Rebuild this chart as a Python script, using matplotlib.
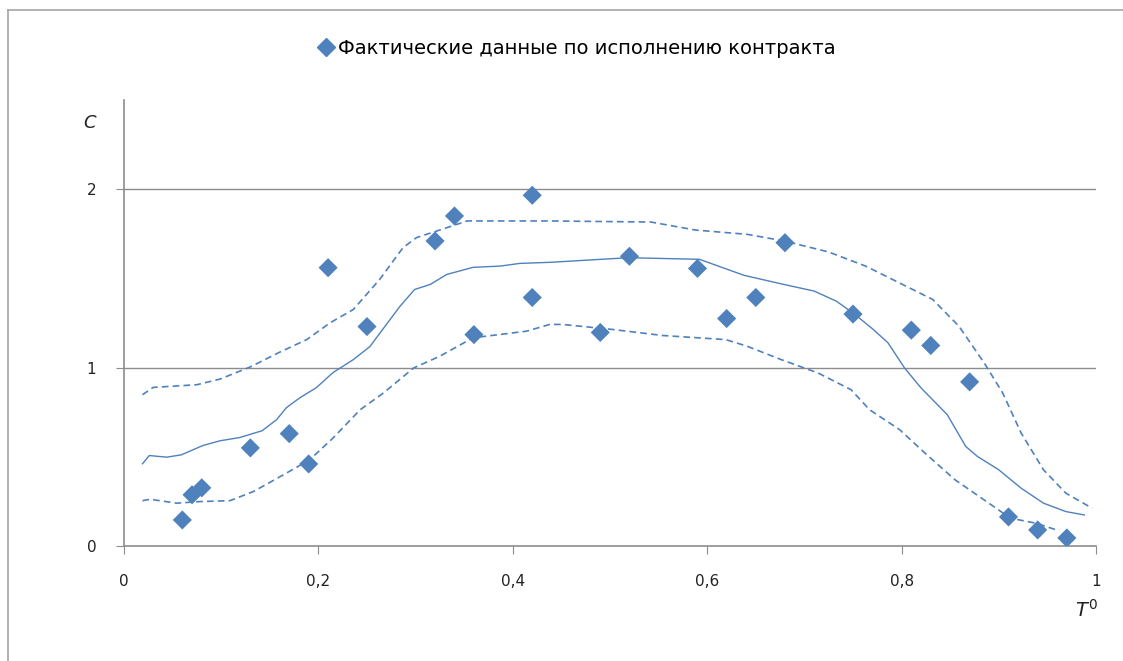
import numpy as np
import matplotlib
matplotlib.use("Agg")
from matplotlib import pyplot as plt
from matplotlib.lines import Line2D

# fact points (T0, C)
fact_t = [0.06, 0.07, 0.08, 0.13, 0.17, 0.19, 0.21, 0.25, 0.32, 0.34, 0.36, 0.42, 0.42,
          0.49, 0.52, 0.59, 0.62, 0.65, 0.68, 0.75, 0.81, 0.83, 0.87, 0.91, 0.94, 0.97]
fact_c = [0.146, 0.287, 0.326, 0.55, 0.63, 0.46, 1.56, 1.23, 1.71, 1.85, 1.185, 1.966, 1.393,
          1.197, 1.624, 1.556, 1.275, 1.393, 1.70, 1.30, 1.21, 1.124, 0.92, 0.163, 0.09, 0.045]

# middle (solid) curve
mid_t = [0.019, 0.026, 0.044, 0.059, 0.081, 0.099, 0.119, 0.142, 0.157, 0.167, 0.181, 0.198,
         0.215, 0.236, 0.253, 0.266, 0.284, 0.299, 0.315, 0.332, 0.359, 0.387, 0.407, 0.438,
         0.519, 0.592, 0.638, 0.679, 0.710, 0.733, 0.752, 0.771, 0.786, 0.803, 0.820, 0.847,
         0.866, 0.878, 0.900, 0.923, 0.946, 0.969, 0.988]
mid_c = [0.461, 0.507, 0.498, 0.511, 0.563, 0.590, 0.608, 0.646, 0.708, 0.775, 0.831, 0.888,
         0.972, 1.045, 1.118, 1.213, 1.344, 1.438, 1.466, 1.522, 1.562, 1.569, 1.584, 1.590,
         1.616, 1.607, 1.517, 1.466, 1.429, 1.372, 1.298, 1.213, 1.139, 0.998, 0.886, 0.736,
         0.558, 0.502, 0.427, 0.324, 0.240, 0.193, 0.174]

# upper dashed bound
up_t = [0.019, 0.030, 0.075, 0.099, 0.130, 0.160, 0.188, 0.212, 0.236, 0.263, 0.287, 0.301,
        0.322, 0.353, 0.387, 0.438, 0.542, 0.588, 0.641, 0.679, 0.725, 0.763, 0.801, 0.832,
        0.859, 0.885, 0.904, 0.923, 0.946, 0.969, 0.996]
up_c = [0.848, 0.889, 0.904, 0.936, 1.004, 1.086, 1.157, 1.251, 1.326, 1.494, 1.672, 1.729,
        1.766, 1.822, 1.822, 1.822, 1.816, 1.771, 1.747, 1.710, 1.648, 1.569, 1.466, 1.382,
        1.232, 1.026, 0.858, 0.633, 0.427, 0.296, 0.212]

# lower dashed bound
low_t = [0.019, 0.027, 0.054, 0.078, 0.109, 0.133, 0.164, 0.191, 0.215, 0.243, 0.267, 0.298,
         0.325, 0.359, 0.414, 0.438, 0.451, 0.504, 0.554, 0.619, 0.641, 0.676, 0.714, 0.748,
         0.767, 0.798, 0.824, 0.855, 0.885, 0.912, 0.939, 0.962]
low_c = [0.254, 0.262, 0.240, 0.249, 0.254, 0.305, 0.399, 0.483, 0.605, 0.764, 0.858, 0.998,
         1.064, 1.167, 1.204, 1.242, 1.242, 1.213, 1.180, 1.157, 1.120, 1.045, 0.970, 0.876,
         0.764, 0.652, 0.521, 0.371, 0.258, 0.156, 0.127, 0.085]

x_ticks = [0, 0.2, 0.4, 0.6, 0.8, 1]
x_labels = ["0", "0,2", "0,4", "0,6", "0,8", "1"]
y_ticks = [0, 1, 2]
y_labels = ["0", "1", "2"]

blue = "#4F81BD"
grey = "#8C8C8C"

fig = plt.figure(figsize=(11.23, 6.61), dpi=100)
ax = fig.add_axes([124 / 1123, 1 - 546 / 661, 972 / 1123, 446 / 661])

# outer frame like the spreadsheet chart area
fig.add_artist(Line2D([8 / 1123, 1], [1 - 10 / 661, 1 - 10 / 661], color="#A6A6A6", lw=1.2))
fig.add_artist(Line2D([8 / 1123, 8 / 1123], [0, 1 - 10 / 661], color="#A6A6A6", lw=1.2))

for y in [1, 2]:
    ax.axhline(y, color=grey, lw=1.0, zorder=1)

ax.plot(mid_t, mid_c, color=blue, lw=1.0, zorder=2)
ax.plot(up_t, up_c, color=blue, lw=1.2, ls=(0, (4, 2.5)), zorder=2)
ax.plot(low_t, low_c, color=blue, lw=1.2, ls=(0, (4, 2.5)), zorder=2)
ax.scatter(fact_t, fact_c, marker="D", s=95, color=blue, edgecolors="none", zorder=3)

ax.set_xlim(0, 1)
ax.set_ylim(0, 2.5)
ax.set_xticks(x_ticks)
ax.set_xticklabels(x_labels)
ax.set_yticks(y_ticks)
ax.set_yticklabels(y_labels)
ax.tick_params(axis="both", direction="out", length=6, color=grey, labelsize=11,
               labelcolor="#222222")
ax.tick_params(axis="x", pad=14)
ax.tick_params(axis="y", pad=14)
for side in ["top", "right"]:
    ax.spines[side].set_visible(False)
for side in ["left", "bottom"]:
    ax.spines[side].set_color(grey)
    ax.spines[side].set_linewidth(1.2)

fig.text(90 / 1123, 1 - 123 / 661, "C", fontsize=13, style="italic", ha="center", va="center",
         color="#222222")
fig.text(1086 / 1123, 1 - 610 / 661, "$T^0$", fontsize=14, ha="center", va="center",
         color="#222222")

handle = Line2D([], [], marker="D", ls="none", color=blue, markersize=9)
fig.legend([handle], ["Фактические данные по исполнению контракта"], loc="center",
           bbox_to_anchor=(576 / 1123, 1 - 48 / 661), frameon=False, fontsize=14,
           handletextpad=0.1, handlelength=1.0, borderaxespad=0)

fig.savefig("out.png", dpi=100)
